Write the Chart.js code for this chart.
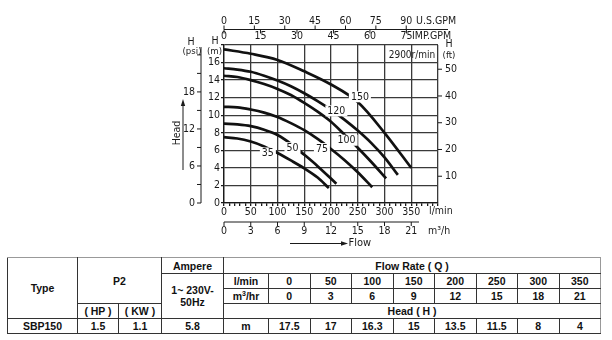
<!DOCTYPE html>
<html>
<head>
<meta charset="utf-8">
<script src="https://cdn.jsdelivr.net/npm/chart.js@4.4.1/dist/chart.umd.min.js"></script>
<style>
  body { margin: 0; background: #fff; width: 612px; height: 340px; overflow: hidden; position: relative; }
  #curveBox { position: absolute; left: 0; top: 0; width: 612px; height: 250px; }
  #spec {
    position: absolute; left: 7px; top: 257px;
    border-collapse: collapse; table-layout: fixed; width: 593px;
    font: bold 10.5px "Liberation Sans", Arial, sans-serif; color: #111;
  }
  #spec td { border: 1px solid #333; text-align: center; vertical-align: middle; padding: 0; line-height: 12px; }
  #spec tr.first td { border-top-color: #999; }
  #spec td.right { border-right-color: #999; }
</style>
</head>
<body>
<div id="curveBox"><canvas id="pumpChart" width="612" height="250"></canvas></div>
<table id="spec"></table>

<script>
// flow points in l/min and m3/h, head of SBP150 in m
const flowLmin = [0, 50, 100, 150, 200, 250, 300, 350];
const flowM3h = [0, 3, 6, 9, 12, 15, 18, 21];
const headSBP150 = [17.5, 17, 16.3, 15, 13.5, 11.5, 8, 4];

// other models of the range (l/min -> m)
const flow35 = [0, 25, 50, 75, 100, 125, 150, 175, 196];
const head35 = [7.5, 7.35, 7.0, 6.45, 5.7, 4.85, 3.95, 2.9, 1.7];
const flow50 = [0, 25, 50, 75, 100, 125, 150, 175, 210];
const head50 = [9.05, 8.95, 8.75, 8.35, 7.75, 6.75, 5.5, 4.2, 2.2];
const flow75 = [0, 25, 50, 75, 100, 125, 150, 175, 200, 225, 250, 277];
const head75 = [10.95, 10.9, 10.65, 10.3, 9.8, 9.1, 8.3, 7.3, 6.15, 4.9, 3.5, 1.8];
const flow100 = [0, 25, 50, 75, 100, 125, 150, 175, 200, 225, 250, 275, 303];
const head100 = [14.5, 14.35, 14.0, 13.55, 13.0, 12.3, 11.4, 10.4, 9.25, 7.8, 6.3, 4.7, 2.8];
const flow120 = [0, 25, 50, 75, 100, 125, 150, 175, 200, 225, 250, 275, 300, 325];
const head120 = [15.35, 15.2, 14.95, 14.5, 13.95, 13.3, 12.5, 11.6, 10.6, 9.5, 8.25, 6.85, 5.2, 3.2];

// curve tags and where they sit (l/min, m)
const curveNames = ["35", "50", "75", "100", "120", "150"];
const tagFlow = [82, 128, 183, 229, 210, 254];
const tagHead = [5.7, 6.3, 6.2, 7.15, 10.5, 12.1];

// secondary scales
const usGpmTicks = [0, 15, 30, 45, 60, 75, 90];
const impGpmTicks = [0, 15, 30, 45, 60, 75];
const psiTicks = [0, 6, 12, 18];
const ftTicks = [10, 20, 30, 40, 50];

const L_PER_USGAL = 3.785;
const L_PER_IMPGAL = 4.546;
const M_PER_PSI = 0.7031;
const M_PER_FT = 0.3048;

const FONT = "'Liberation Sans Narrow', 'DejaVu Sans Condensed', Arial, sans-serif";
const INK = "#1a1a1a";
const GRID = "#3a3a3a";

const curves = [
  [flow35, head35], [flow50, head50], [flow75, head75],
  [flow100, head100], [flow120, head120], [flowLmin, headSBP150],
];

// extra axes, captions and arrows around the plot
const secondaryAxes = {
  id: "secondaryAxes",
  afterDraw(chart) {
    const { ctx, chartArea: a, scales: { x, y } } = chart;
    const line = (x1, y1, x2, y2) => {
      ctx.beginPath(); ctx.moveTo(x1, y1); ctx.lineTo(x2, y2); ctx.stroke();
    };
    const text = (s, px, py, align = "center", size = 10.5) => {
      ctx.font = `${size}px ${FONT}`;
      ctx.textAlign = align;
      ctx.textBaseline = "middle";
      ctx.fillText(s, px, py);
    };
    ctx.save();
    ctx.strokeStyle = INK;
    ctx.fillStyle = INK;
    ctx.lineWidth = 1;

    // psi
    const psiX = 201;
    line(psiX, a.top + 2, psiX, a.bottom);
    for (let p = 0; p <= 24; p += 3) {
      const py = y.getPixelForValue(p * M_PER_PSI);
      line(psiX - 4, py, psiX, py);
    }
    psiTicks.forEach((p) => text(String(p), psiX - 6, y.getPixelForValue(p * M_PER_PSI), "right"));
    text("H", 191, 42);
    text("(psi)", 192, 51.5, "center", 9.5);
    text("H", 215, 41);
    text("(m)", 214.5, 51.5, "center", 9.5);

    // ft on the right
    ftTicks.forEach((f) => {
      const py = y.getPixelForValue(f * M_PER_FT);
      line(a.right, py, a.right + 4, py);
      text(String(f), a.right + 7, py, "left");
    });
    text("H", 449, 44);
    text("(ft)", 449, 56, "center", 9.5);

    // gallons per minute on top
    const gy = 29.5;
    line(a.left, gy, 448, gy);
    usGpmTicks.forEach((g) => {
      const px = x.getPixelForValue(g * L_PER_USGAL);
      line(px, gy - 4, px, gy);
      text(String(g), px, 21);
    });
    text("U.S.GPM", 416, 21, "left");
    impGpmTicks.forEach((g) => {
      const px = x.getPixelForValue(g * L_PER_IMPGAL);
      line(px, gy, px, gy + 4);
      text(String(g), px, 36.5);
    });
    text("IMP.GPM", 412, 36.5, "left");

    // m3/h below
    const my = 222;
    line(a.left, my, 419, my);
    flowM3h.forEach((q) => {
      const px = x.getPixelForValue(q * 50 / 3);
      line(px, my, px, my + 4);
      text(String(q), px, 231.5);
    });
    text("l/min", 429, 211.5, "left");
    text("m³/h", 428, 231.5, "left");

    // speed
    text("2900r/min", 412, 55, "center", 10);

    // Head caption with arrow
    ctx.save();
    ctx.translate(177.5, 133);
    ctx.rotate(-Math.PI / 2);
    text("Head", 0, 0, "center", 10.5);
    ctx.restore();
    line(183, 170, 183, 104);
    ctx.beginPath();
    ctx.moveTo(183, 99); ctx.lineTo(180.8, 106); ctx.lineTo(185.2, 106); ctx.closePath(); ctx.fill();

    // Flow caption with arrow
    line(290, 243.5, 342, 243.5);
    ctx.beginPath();
    ctx.moveTo(348, 243.5); ctx.lineTo(341, 241.3); ctx.lineTo(341, 245.7); ctx.closePath(); ctx.fill();
    text("Flow", 348.5, 243.5, "left", 11);

    ctx.restore();
  },
};

// model numbers written on the curves over a white patch
const curveTags = {
  id: "curveTags",
  afterDatasetsDraw(chart) {
    const { ctx, scales: { x, y } } = chart;
    ctx.save();
    ctx.font = `10.5px ${FONT}`;
    ctx.textAlign = "center";
    ctx.textBaseline = "middle";
    curveNames.forEach((n, i) => {
      const px = x.getPixelForValue(tagFlow[i]);
      const py = y.getPixelForValue(tagHead[i]);
      const w = ctx.measureText(n).width + 4;
      ctx.fillStyle = "#fff";
      ctx.fillRect(px - w / 2, py - 5.5, w, 11);
      ctx.fillStyle = INK;
      ctx.fillText(n, px, py + 0.5);
    });
    ctx.restore();
  },
};

new Chart(document.getElementById("pumpChart"), {
  type: "line",
  data: {
    datasets: curves.map(([f, h]) => ({
      data: f.map((q, i) => ({ x: q, y: h[i] })),
      borderColor: "#111",
      borderWidth: 2.7,
      pointRadius: 0,
      fill: false,
      cubicInterpolationMode: "monotone",
    })),
  },
  options: {
    responsive: false,
    animation: false,
    events: [],
    layout: { padding: { left: 200, right: 174, top: 45, bottom: 31 } },
    plugins: { legend: { display: false }, tooltip: { enabled: false } },
    scales: {
      x: {
        type: "linear",
        min: 0,
        max: 400,
        afterFit: (s) => { s.height = 16; },
        border: { color: INK, width: 1.3 },
        grid: {
          color: (c) => (c.tick && c.tick.value % 50 === 0 ? GRID : "rgba(0,0,0,0)"),
          tickColor: INK,
          tickLength: 3,
          lineWidth: 1.3,
        },
        ticks: {
          stepSize: 10,
          autoSkip: false,
          maxRotation: 0,
          padding: 0,
          color: INK,
          font: { family: FONT, size: 10.5 },
          callback: (v) => (v % 50 === 0 && v < 400 ? v : ""),
        },
      },
      y: {
        min: 0,
        max: 18,
        afterFit: (s) => { s.width = 24; },
        border: { color: INK, width: 1.3 },
        grid: { color: GRID, tickColor: INK, tickLength: 3, lineWidth: 1.3 },
        ticks: {
          stepSize: 2,
          padding: 1,
          color: INK,
          font: { family: FONT, size: 10.5 },
          callback: (v) => (v < 18 ? v : ""),
        },
      },
    },
  },
  plugins: [curveTags, secondaryAxes],
});

// data table under the chart
const cell = (s, attrs = "") => `<td ${attrs}>${s}</td>`;
const tail = (i, n) => (i === n - 1 ? 'class="right"' : "");
document.getElementById("spec").innerHTML =
  "<colgroup><col style='width:70px'><col style='width:41px'><col style='width:43px'>" +
  "<col style='width:62px'><col style='width:45px'>" +
  flowLmin.map(() => "<col style='width:41.5px'>").join("") + "</colgroup>" +
  `<tr class="first" style="height:16px">${cell("Type", 'rowspan="4"')}${cell("P2", 'colspan="2" rowspan="3"')}` +
  `${cell("Ampere")}${cell("Flow Rate ( Q )", `colspan="${flowLmin.length + 1}" class="right"`)}</tr>` +
  `<tr style="height:15px">${cell("1~ 230V-<br>50Hz", 'rowspan="3"')}${cell("l/min")}` +
  flowLmin.map((v, i) => cell(v, tail(i, flowLmin.length))).join("") + "</tr>" +
  `<tr style="height:15px">${cell("m<sup style='font-size:7px;line-height:0'>3</sup>/hr")}` +
  flowM3h.map((v, i) => cell(v, tail(i, flowM3h.length))).join("") + "</tr>" +
  `<tr style="height:15px">${cell("( HP )")}${cell("( KW )")}` +
  `${cell("Head ( H )", `colspan="${flowLmin.length + 1}" class="right"`)}</tr>` +
  `<tr style="height:15px">${cell("SBP150")}${cell("1.5")}${cell("1.1")}${cell("5.8")}${cell("m")}` +
  headSBP150.map((v, i) => cell(v, tail(i, headSBP150.length))).join("") + "</tr>";
</script>
</body>
</html>
